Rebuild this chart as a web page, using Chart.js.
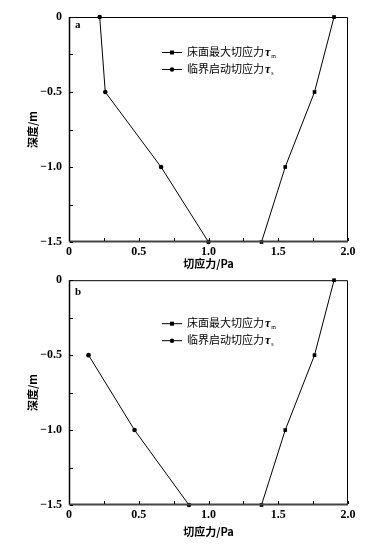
<!DOCTYPE html>
<html><head><meta charset="utf-8">
<script src="https://cdn.jsdelivr.net/npm/chart.js@4/dist/chart.umd.min.js"></script>
<style>
html,body{margin:0;padding:0;background:#fff;}
#wrap{position:relative;width:367px;height:545px;overflow:hidden;}
canvas{position:absolute;left:0;}
</style></head><body>
<div id="wrap">
<canvas id="ca" width="367" height="270" style="top:0"></canvas>
<canvas id="cb" width="367" height="279" style="top:266px"></canvas>
</div>
<script>
// Data
const depthA = [0, -0.5, -1.0, -1.5];
const tauMaxA = [1.90, 1.76, 1.55, 1.38];
const tauCritA = [0.22, 0.26, 0.66, 1.00];
const depthB_m = [0, -0.5, -1.0, -1.5];
const tauMaxB = [1.90, 1.76, 1.55, 1.38];
const depthB_s = [-0.5, -1.0, -1.5];
const tauCritB = [0.14, 0.47, 0.86];
const xTicks = [0, 0.5, 1.0, 1.5, 2.0];
const yTicks = [0, -0.5, -1.0, -1.5];
const seriesNames = ['床面最大切应力τ', '临界启动切应力τ'];
const seriesSubs = ['m', 's'];
const xTitle = '切应力/Pa';
const yTitle = '深度/m';

const CJK = '"Noto Sans CJK SC", "Noto Sans", sans-serif';
const SERIF = '"Liberation Serif", "DejaVu Serif", serif';

function pts(xs, ys){ return xs.map((x,i)=>({x:x, y:ys[i]})); }

const framePlugin = {
  id:'frame',
  afterDraw(chart){
    const ctx = chart.ctx, a = chart.chartArea, xs = chart.scales.x, ys = chart.scales.y;
    const o = chart.options.plugins.frame;
    ctx.save();
    ctx.strokeStyle = '#000';
    ctx.lineWidth = 1;
    ctx.beginPath();
    ctx.moveTo(a.left+0.5, a.top+0.5); ctx.lineTo(a.right-0.5, a.top+0.5); ctx.lineTo(a.right-0.5, a.bottom);
    ctx.stroke();
    ctx.lineWidth = 1.5;
    ctx.beginPath();
    ctx.moveTo(a.left+0.5, a.top); ctx.lineTo(a.left+0.5, a.bottom);
    ctx.stroke();
    ctx.strokeStyle = '#444';
    ctx.lineWidth = 2;
    ctx.beginPath();
    ctx.moveTo(a.left, a.bottom-0.5); ctx.lineTo(a.right, a.bottom-0.5);
    ctx.stroke();
    ctx.strokeStyle = '#000';
    ctx.lineWidth = 1;
    for (let v = 0; v <= 2.0001; v += 0.25) {
      const px = Math.round(xs.getPixelForValue(v)) + 0.5;
      ctx.beginPath(); ctx.moveTo(px, a.bottom-1); ctx.lineTo(px, a.bottom-4); ctx.stroke();
    }
    for (let v = 0; v >= -1.5001; v -= 0.25) {
      const py = Math.round(ys.getPixelForValue(v)) + 0.5;
      ctx.beginPath(); ctx.moveTo(a.left+1, py); ctx.lineTo(a.left+4, py); ctx.stroke();
    }
    ctx.fillStyle = '#000';
    ctx.font = 'bold 11px ' + SERIF;
    ctx.textBaseline = 'middle';
    ctx.textAlign = 'left';
    ctx.fillText(o.letter, a.left + 6, a.top + o.letterDy);
    const lx = a.left + 93;
    o.legendRows.forEach((ry, i) => {
      const y = a.top + ry;
      ctx.lineWidth = 1;
      ctx.beginPath(); ctx.moveTo(lx, y+0.5); ctx.lineTo(lx+20, y+0.5); ctx.stroke();
      if (i === 0) { ctx.fillRect(lx+8, y-1.5, 4, 4); }
      else { ctx.beginPath(); ctx.arc(lx+10, y+0.5, 2.2, 0, Math.PI*2); ctx.fill(); }
      ctx.font = '11px ' + CJK;
      ctx.textAlign = 'left';
      ctx.textBaseline = 'middle';
      const name = seriesNames[i];
      const base = name.slice(0, -1);
      ctx.fillText(base, lx+25, y);
      const w = ctx.measureText(base).width;
      ctx.font = 'italic bold 12px ' + SERIF;
      ctx.fillText('τ', lx+25+w+1, y+1);
      const w2 = ctx.measureText('τ').width;
      ctx.font = '6px ' + SERIF;
      ctx.fillText(seriesSubs[i], lx+25+w+1+w2+1, y+4);
    });
    ctx.restore();
  }
};

function makeChart(id, datasets, opts){
  return new Chart(document.getElementById(id), {
    type:'scatter',
    data:{datasets: datasets},
    options:{
      responsive:false, animation:false, events:[],
      layout:{padding:{top:opts.top, right:19, left:0, bottom:opts.bottom}},
      plugins:{legend:{display:false}, tooltip:{enabled:false},
        frame:{letter:opts.letter, letterDy:opts.letterDy, legendRows:opts.legendRows}},
      scales:{
        x:{type:'linear', min:0, max:2,
          afterBuildTicks(s){ s.ticks = xTicks.map(v=>({value:v})); },
          afterFit(s){ s.height = opts.xh; },
          grid:{display:false, drawTicks:false}, border:{display:false},
          ticks:{padding:3, color:'#000', font:{family:SERIF, size:12, weight:'bold'},
            callback:(v)=> v===0 ? '0' : v.toFixed(1)},
          title:{display:true, text:xTitle, color:'#000', padding:{top:1,bottom:0},
            font:{family:CJK, size:11, weight:'bold'}}
        },
        y:{type:'linear', min:-1.5, max:0,
          afterBuildTicks(s){ s.ticks = yTicks.map(v=>({value:v})); },
          afterFit(s){ s.width = 69; },
          grid:{display:false, drawTicks:false}, border:{display:false},
          ticks:{padding:7, color:'#000', font:{family:SERIF, size:12, weight:'bold'},
            callback:(v)=> v===0 ? '0' : '−' + Math.abs(v).toFixed(1)},
          title:{display:true, text:yTitle, color:'#000', padding:{top:26,bottom:0},
            font:{family:CJK, size:11, weight:'bold'}}
        }
      }
    },
    plugins:[framePlugin]
  });
}

function ds(data, style){
  return {data:data, showLine:true, borderColor:'#000', borderWidth:1,
    backgroundColor:'#000', pointStyle:style, pointRadius: style==='rect'?2.6:2.3,
    pointBorderWidth:0, clip:false, tension:0};
}

makeChart('ca', [ds(pts(tauMaxA, depthA),'rect'), ds(pts(tauCritA, depthA),'circle')],
  {top:17, bottom:0, xh:28, letter:'a', letterDy:8, legendRows:[35,52]});
makeChart('cb', [ds(pts(tauMaxB, depthB_m),'rect'), ds(pts(tauCritB, depthB_s),'circle')],
  {top:9, bottom:7, xh:33, letter:'b', letterDy:12, legendRows:[43,60]});
</script>
</body></html>
